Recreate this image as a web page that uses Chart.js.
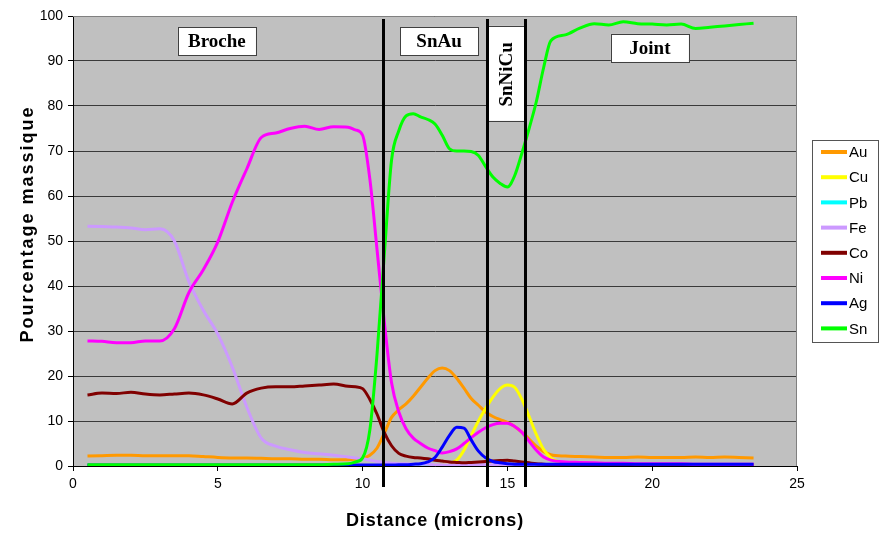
<!DOCTYPE html>
<html>
<head>
<meta charset="utf-8">
<script src="https://cdn.jsdelivr.net/npm/chart.js@4"></script>
<style>
  html, body { margin: 0; background: #fff; }
</style>
</head>
<body>
<canvas id="profil" width="880" height="534"></canvas>
<script>
// Profil EDX : pourcentage massique le long de la distance (microns)
const distance = [
  0.5, 1, 1.5, 2, 2.5, 3, 3.5, 4, 4.5, 5, 5.5, 6, 6.5, 7, 7.5, 8, 8.5, 9, 9.5,
  9.75, 10, 10.25, 10.5, 10.75, 11, 11.25, 11.5, 11.75, 12, 12.25, 12.5, 12.75, 13,
  13.25, 13.5, 13.75, 14, 14.25, 14.5, 14.75, 15, 15.25, 15.5, 15.75, 16, 16.25, 16.5,
  17, 17.5, 18, 18.5, 19, 19.5, 20, 20.5, 21, 21.5, 22, 22.5, 23, 23.5
];

const au = [
  2.2, 2.3, 2.4, 2.4, 2.3, 2.3, 2.3, 2.3, 2.1, 1.9, 1.8, 1.8, 1.7, 1.6, 1.6, 1.5, 1.5, 1.4, 1.4,
  1.5, 1.7, 2.4, 4.0, 7.3, 10.8, 12.5, 13.8, 15.5, 17.5, 19.5, 21.2, 21.8, 21.2,
  19.5, 17.3, 15.0, 13.5, 12.0, 11.0, 10.3, 9.7, 8.8, 7.5, 6.0, 4.4, 3.2, 2.5,
  2.2, 2.1, 2.0, 1.9, 1.9, 2.0, 1.9, 1.9, 1.9, 2.0, 1.9, 2.0, 1.9, 1.8
];
const cu = [
  0.1, 0.1, 0.1, 0.1, 0.1, 0.1, 0.1, 0.1, 0.1, 0.1, 0.1, 0.1, 0.1, 0.1, 0.1, 0.1, 0.1, 0.1, 0.1,
  0.1, 0.1, 0.1, 0.1, 0.1, 0.1, 0.1, 0.1, 0.1, 0.1, 0.1, 0.2, 0.3, 0.6,
  1.3, 3.5, 6.8, 10.0, 12.8, 15.3, 17.2, 18.0, 17.5, 14.8, 11.0, 7.0, 3.7, 1.8,
  0.6, 0.4, 0.3, 0.3, 0.3, 0.3, 0.3, 0.3, 0.3, 0.3, 0.3, 0.3, 0.3, 0.3
];
const pb = [
  0.1, 0.1, 0.1, 0.1, 0.1, 0.1, 0.1, 0.1, 0.1, 0.1, 0.1, 0.1, 0.1, 0.1, 0.1, 0.1, 0.1, 0.1, 0.1,
  0.1, 0.1, 0.1, 0.1, 0.1, 0.1, 0.1, 0.1, 0.1, 0.1, 0.1, 0.1, 0.1, 0.1,
  0.1, 0.1, 0.1, 0.1, 0.1, 0.1, 0.1, 0.1, 0.1, 0.1, 0.1, 0.1, 0.1, 0.1,
  0.1, 0.1, 0.1, 0.1, 0.1, 0.1, 0.1, 0.1, 0.1, 0.1, 0.1, 0.1, 0.1, 0.1
];
const fe = [
  53.3, 53.2, 53.1, 52.9, 52.5, 52.7, 50.0, 41.0, 34.6, 29.3, 22.0, 13.1, 6.2, 4.4, 3.6, 3.0, 2.7, 2.4, 2.0,
  1.8, 1.6, 1.3, 1.0, 0.8, 0.6, 0.5, 0.5, 0.4, 0.4, 0.4, 0.3, 0.3, 0.3,
  0.3, 0.3, 0.3, 0.3, 0.3, 0.3, 0.3, 0.3, 0.3, 0.3, 0.3, 0.3, 0.3, 0.3,
  0.3, 0.3, 0.3, 0.3, 0.3, 0.3, 0.3, 0.3, 0.3, 0.3, 0.3, 0.3, 0.3, 0.3
];
const co = [
  15.8, 16.2, 16.1, 16.4, 16.0, 15.8, 16.0, 16.2, 15.8, 14.9, 13.8, 16.2, 17.3, 17.6, 17.6, 17.8, 18.0, 18.2, 17.7,
  17.6, 17.2, 14.8, 11.5, 7.4, 4.5, 2.8, 2.2, 1.9, 1.8, 1.6, 1.3, 1.1, 0.9,
  0.8, 0.7, 0.8, 0.9, 1.0, 1.1, 1.2, 1.3, 1.1, 0.9, 0.7, 0.5, 0.4, 0.3,
  0.3, 0.3, 0.3, 0.3, 0.3, 0.3, 0.3, 0.3, 0.3, 0.3, 0.3, 0.3, 0.3, 0.3
];
const ni = [
  27.8, 27.7, 27.4, 27.4, 27.8, 27.8, 30.5, 38.5, 43.6, 49.8, 58.6, 66.0, 73.0, 74.0, 75.0, 75.5, 74.8, 75.4, 75.3,
  74.7, 73.5, 63.8, 48.0, 32.0, 18.5, 12.0, 8.3, 6.2, 5.0, 4.0, 3.4, 2.9, 3.2,
  3.8, 5.0, 6.3, 7.5, 8.5, 9.2, 9.5, 9.5, 8.8, 7.5, 5.5, 3.5, 2.0, 1.3,
  0.9, 0.8, 0.7, 0.6, 0.6, 0.5, 0.5, 0.5, 0.5, 0.4, 0.4, 0.4, 0.4, 0.4
];
const ag = [
  0.2, 0.2, 0.2, 0.2, 0.2, 0.2, 0.2, 0.2, 0.2, 0.2, 0.2, 0.2, 0.2, 0.2, 0.2, 0.2, 0.2, 0.2, 0.2,
  0.2, 0.2, 0.2, 0.2, 0.2, 0.2, 0.3, 0.3, 0.4, 0.5, 0.9, 1.9, 4.2, 6.8,
  8.6, 8.4, 5.8, 3.3, 1.8, 1.0, 0.7, 0.5, 0.4, 0.4, 0.4, 0.4, 0.4, 0.4,
  0.4, 0.4, 0.4, 0.4, 0.4, 0.4, 0.4, 0.4, 0.4, 0.4, 0.4, 0.4, 0.4, 0.4
];
const sn = [
  0.3, 0.3, 0.3, 0.3, 0.3, 0.3, 0.3, 0.3, 0.3, 0.3, 0.3, 0.3, 0.3, 0.3, 0.3, 0.3, 0.3, 0.4, 0.5,
  0.9, 1.8, 8.0, 25.0, 47.0, 68.0, 74.5, 77.8, 78.3, 77.6, 77.0, 76.0, 73.5, 70.5,
  70.0, 70.0, 69.9, 69.0, 66.5, 64.2, 62.8, 62.0, 64.5, 69.5, 75.0, 81.0, 88.5, 94.5,
  95.8, 97.3, 98.3, 98.0, 98.7, 98.3, 98.2, 98.0, 98.2, 97.2, 97.5, 97.8, 98.1, 98.4
];

const elements = ['Au', 'Cu', 'Pb', 'Fe', 'Co', 'Ni', 'Ag', 'Sn'];
const series = [au, cu, pb, fe, co, ni, ag, sn];
const colors = ['#ff9900', '#ffff00', '#00ffff', '#cc99ff', '#800000', '#ff00ff', '#0000ff', '#00ff00'];

// limites entre les zones et leurs noms
const boundaries = [10.7, 14.3, 15.6];
const zoneNames = ['Broche', 'SnAu', 'SnNiCu', 'Joint'];

const xTitle = 'Distance (microns)';
const yTitle = 'Pourcentage massique';

const sansFont = 'Arial, "Liberation Sans", sans-serif';
const serifFont = '"Times New Roman", "Liberation Serif", serif';

const datasets = elements.map((el, i) => ({
  label: el,
  data: distance.map((d, k) => ({ x: d, y: series[i][k] })),
  borderColor: colors[i],
  backgroundColor: colors[i],
  borderWidth: 3,
  pointRadius: 0,
  fill: false,
  cubicInterpolationMode: 'monotone',
  order: elements.length - i   // Sn dessiné par-dessus
}));

function box(ctx, x, y, w, h) {
  ctx.fillStyle = '#ffffff';
  ctx.fillRect(x, y, w, h);
  ctx.strokeStyle = '#404040';
  ctx.lineWidth = 1;
  ctx.strokeRect(Math.round(x) + 0.5, Math.round(y) + 0.5, Math.round(w), Math.round(h));
}

const decor = {
  id: 'decor',
  beforeDraw(chart) {
    const { ctx, chartArea: a } = chart;
    ctx.save();
    ctx.fillStyle = '#c0c0c0';
    ctx.fillRect(a.left, a.top, a.right - a.left, a.bottom - a.top);
    ctx.restore();
  },
  afterDraw(chart) {
    const { ctx, chartArea: a, scales: { x, y } } = chart;
    ctx.save();

    // bord gris du cadre
    ctx.strokeStyle = '#808080';
    ctx.lineWidth = 1;
    ctx.beginPath();
    ctx.moveTo(a.left, a.top + 0.5);
    ctx.lineTo(a.right - 0.5, a.top + 0.5);
    ctx.lineTo(a.right - 0.5, a.bottom);
    ctx.stroke();

    // titres des axes (espacement des lettres élargi)
    ctx.fillStyle = '#000';
    ctx.font = 'bold 18px ' + sansFont;
    ctx.textAlign = 'center';
    ctx.textBaseline = 'alphabetic';
    ctx.letterSpacing = '0.9px';
    ctx.fillText(xTitle, (a.left + a.right) / 2, 526);
    ctx.save();
    ctx.letterSpacing = '2px';
    ctx.translate(33, 224);
    ctx.rotate(-Math.PI / 2);
    ctx.fillText(yTitle, 0, 0);
    ctx.restore();
    ctx.letterSpacing = '0px';

    // étiquettes des zones
    ctx.font = 'bold 19px ' + serifFont;
    ctx.textAlign = 'center';
    ctx.textBaseline = 'middle';
    const flat = [
      { name: zoneNames[0], cx: 4.97, cy: 94.4 },
      { name: zoneNames[1], cx: 12.64, cy: 94.4 },
      { name: zoneNames[3], cx: 19.92, cy: 92.9 }
    ];
    flat.forEach(z => {
      const px = x.getPixelForValue(z.cx), py = y.getPixelForValue(z.cy);
      box(ctx, px - 39, py - 14, 78, 28);
      ctx.fillStyle = '#000';
      ctx.fillText(z.name, px, py + 1);
    });

    // zone SnNiCu, texte vertical entre deux limites
    const l1 = x.getPixelForValue(boundaries[1]);
    const l2 = x.getPixelForValue(boundaries[2]);
    const top = y.getPixelForValue(97.8), bot = y.getPixelForValue(76.7);
    box(ctx, l1, top, l2 - l1, bot - top);
    ctx.save();
    ctx.translate((l1 + l2) / 2 + 1, (top + bot) / 2 + 1);
    ctx.rotate(-Math.PI / 2);
    ctx.fillStyle = '#000';
    ctx.fillText(zoneNames[2], 0, 0);
    ctx.restore();

    // lignes de limite
    ctx.strokeStyle = '#000';
    ctx.lineWidth = 3;
    boundaries.forEach(b => {
      const px = Math.round(x.getPixelForValue(b)) + 0.5;
      ctx.beginPath();
      ctx.moveTo(px, a.top + 3);
      ctx.lineTo(px, a.bottom + 21);
      ctx.stroke();
    });

    // légende
    const lx = a.right + 15, lw = 66, lh = 202;
    const ly = (a.top + a.bottom) / 2 - lh / 2;
    ctx.fillStyle = '#fff';
    ctx.fillRect(lx, ly, lw, lh);
    ctx.strokeStyle = '#555';
    ctx.lineWidth = 1;
    ctx.strokeRect(Math.round(lx) + 0.5, Math.round(ly) + 0.5, lw, lh);
    ctx.font = '15px ' + sansFont;
    ctx.textAlign = 'left';
    elements.forEach((el, i) => {
      const ry = ly + 12 + i * 25.2;
      ctx.strokeStyle = colors[i];
      ctx.lineWidth = 4;
      ctx.beginPath();
      ctx.moveTo(lx + 9, ry);
      ctx.lineTo(lx + 35, ry);
      ctx.stroke();
      ctx.fillStyle = '#000';
      ctx.fillText(el, lx + 37, ry + 1);
    });

    ctx.restore();
  }
};

new Chart(document.getElementById('profil'), {
  type: 'line',
  data: { datasets },
  options: {
    responsive: false,
    animation: false,
    layout: { padding: { top: 16, right: 83, left: 0, bottom: 0 } },
    plugins: {
      legend: { display: false },
      tooltip: { enabled: false }
    },
    scales: {
      x: {
        type: 'linear',
        min: 0,
        max: 25,
        afterFit: s => { s.height = 68; },
        ticks: { stepSize: 5, color: '#000', font: { family: sansFont, size: 14 }, padding: 5 },
        grid: { drawOnChartArea: false, tickLength: 5, tickColor: '#000' },
        border: { color: '#000', width: 1 }
      },
      y: {
        min: 0,
        max: 100,
        afterFit: s => { s.width = 73; },
        ticks: { stepSize: 10, color: '#000', font: { family: sansFont, size: 14 }, padding: 5 },
        grid: { color: '#3a3a3a', tickLength: 5, tickColor: '#000' },
        border: { color: '#000', width: 1 }
      }
    }
  },
  plugins: [decor]
});
</script>
</body>
</html>
